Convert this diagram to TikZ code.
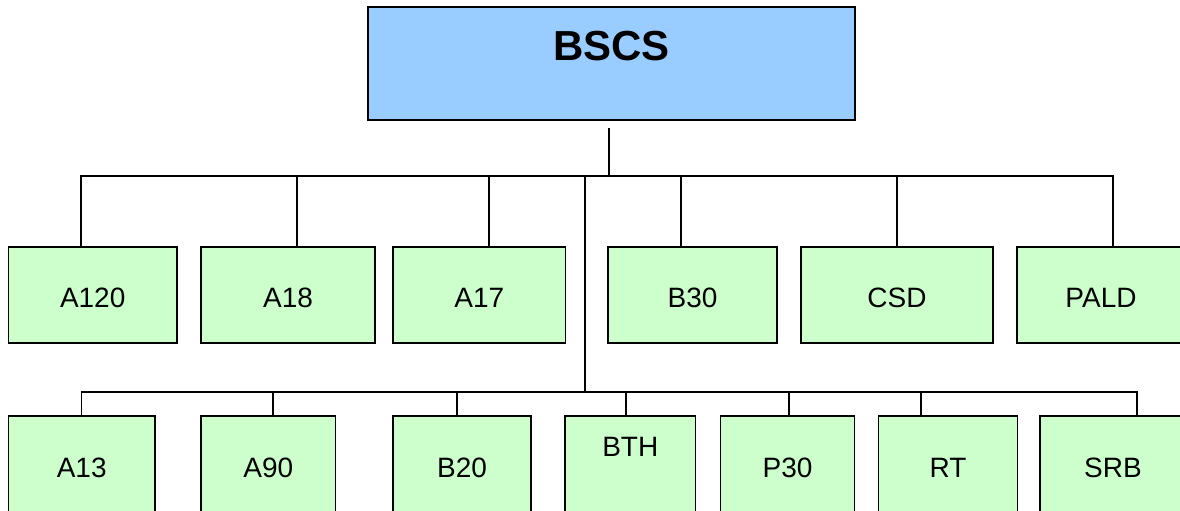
\documentclass[tikz,border=0pt]{standalone}
\usepackage{fontspec}
\setmainfont{Liberation Sans}
\definecolor{rootblue}{HTML}{99CCFF}
\definecolor{leafgreen}{HTML}{CCFFCC}

\begin{document}
\begin{tikzpicture}[x=1pt,y=-1pt,line join=miter,
    root/.style={draw,line width=1.6pt,fill=rootblue,inner sep=0pt,minimum width=487pt,minimum height=113pt,font=\fontsize{42}{48}\bfseries,text height=30pt,text depth=36pt},
    leaf/.style={draw,line width=1.6pt,fill=leafgreen,inner sep=0pt,font=\fontsize{28}{32}\selectfont,text depth=0pt},
    upper/.style={leaf,minimum height=96pt,text height=25pt},
    lower/.style={leaf,minimum height=102pt,text height=20pt},
    link/.style={line width=1.1pt}]
    \useasboundingbox (0,0) rectangle (1180,511);
    \clip (0,0) rectangle (1180,511);

    \node[root] (bscs) at (611.5,63.5) {BSCS};
    \coordinate (stem) at ([xshift=-2.5pt,yshift=-7pt]bscs.south);
    \coordinate (bus1) at (609,176);
    \coordinate (fork) at (585,176);
    \coordinate (bus2) at (585,392);

    % first row
    \node[upper,minimum width=168.6pt] (a120) at (92.7,295) {A120};
    \node[upper,minimum width=174pt] (a18) at (288,295) {A18};
    \node[upper,minimum width=172.6pt] (a17) at (479.3,295) {A17};
    \node[upper,minimum width=169pt] (b30) at (692.5,295) {B30};
    \node[upper,minimum width=192pt] (csd) at (897,295) {CSD};
    \node[upper,minimum width=168pt] (pald) at (1101,295) {PALD};

    % second row
    \node[lower,minimum width=146.6pt] (a13) at (81.7,467) {A13};
    \node[lower,minimum width=134.6pt] (a90) at (268.3,467) {A90};
    \node[lower,minimum width=138pt] (b20) at (462,467) {B20};
    \node[lower,minimum width=130.6pt,text depth=41pt] (bth) at (630.3,467) {BTH};
    \node[lower,minimum width=134pt] (p30) at (787.5,467) {P30};
    \node[lower,minimum width=138.8pt] (rt) at (948,467) {RT};
    \node[lower,minimum width=146pt] (srb) at (1113,467) {SRB};

    \draw[link] (stem) -- (bus1);
    \draw[link] (fork) -- (bus2);
    \foreach \n/\dx in {a120/-11.7,a18/9,a17/9.7,b30/-11.5,csd/0,pald/12}
        \draw[link] (bus1) -| ([xshift=\dx pt]\n.north);
    \foreach \n/\dx in {a13/0,a90/4.7,b20/-5,bth/-4.3,p30/1.5,rt/-27,srb/24}
        \draw[link] (bus2) -| ([xshift=\dx pt]\n.north);
  \end{tikzpicture}
\end{document}
